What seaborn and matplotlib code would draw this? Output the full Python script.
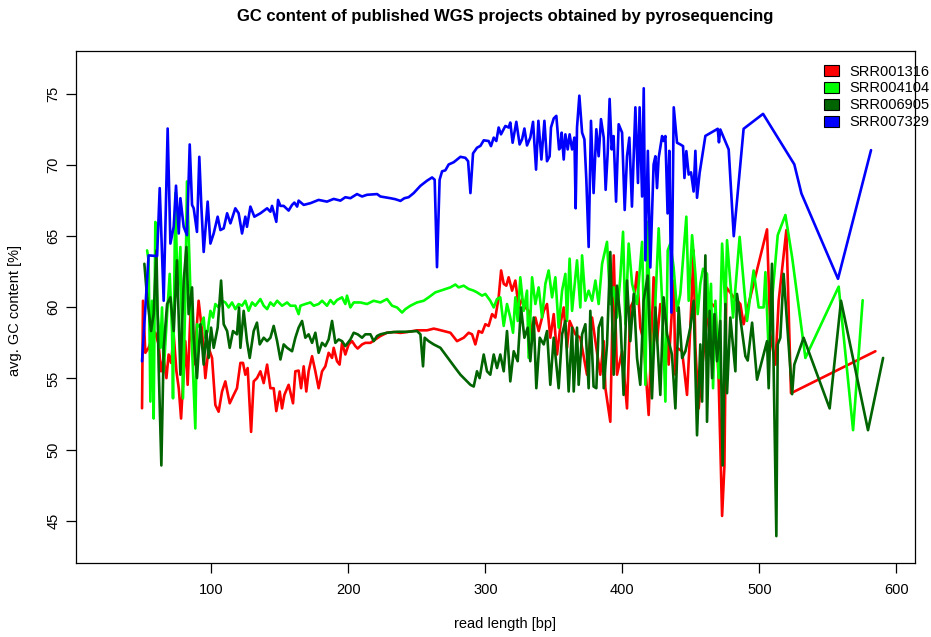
import numpy as np
import pandas as pd
import matplotlib
matplotlib.use("Agg")
import matplotlib.pyplot as plt
import seaborn as sns
from matplotlib.patches import Patch

sns.set_theme(style="white")
plt.rcParams['font.family'] = ['Liberation Sans', 'DejaVu Sans']
plt.rcParams['text.color'] = 'black'
plt.rcParams['axes.labelcolor'] = 'black'
plt.rcParams['xtick.color'] = 'black'
plt.rcParams['ytick.color'] = 'black'

runs = ["SRR001316", "SRR004104", "SRR006905", "SRR007329"]
colors = ["#FF0000", "#00FF00", "#006400", "#0000FF"]

red_x = [49.4, 50.1, 51.8, 54.2, 56.7, 59.1, 61.5, 63.3, 65.2, 67.2, 68.8, 70.6, 72.5, 74.5, 76.2, 77.9,
         79.8, 81.0, 82.7, 84.7, 87.1, 89.1, 90.7, 93.2, 95.6, 98.0, 100.5, 102.9, 105.3, 107.8, 110.2,
         113.4, 116.3, 118.7, 121.2, 123.1, 124.8, 126.5, 129.0, 130.9, 133.3, 135.8, 138.2, 140.7, 143.1,
         145.5, 147.4, 149.9, 151.6, 153.3, 156.4, 159.6, 161.3, 163.7, 165.5, 167.4, 169.3, 171.0, 173.5,
         175.9, 178.3, 180.8, 183.2, 185.6, 188.1, 189.3, 191.7, 193.6, 195.4, 197.8, 200.2, 202.7, 205.1,
         206.8, 210.0, 212.4, 216.1, 219.7, 223.4, 228.2, 233.1, 238.0, 242.8, 250.1, 257.4, 262.3, 264.7,
         269.6, 274.5, 279.3, 284.2, 287.8, 290.3, 292.7, 295.1, 297.6, 300.0, 302.4, 304.9, 307.3, 309.7,
         311.5, 313.4, 315.3, 317.0, 319.5, 321.9, 324.3, 326.8, 329.2, 331.6, 334.1, 336.5, 338.9, 342.6,
         345.0, 347.4, 349.9, 352.3, 355.2, 357.2, 359.6, 361.5, 365.7, 369.3, 374.2, 377.9, 380.3, 383.9,
         386.4, 387.6, 391.2, 393.7, 396.1, 399.8, 403.4, 405.8, 408.3, 410.7, 413.1, 415.5, 419.2, 422.8,
         425.3, 427.7, 431.4, 433.8, 437.5, 438.7, 439.9, 443.6, 447.2, 449.6, 452.0, 453.3, 455.7, 458.2,
         460.6, 463.0, 465.5, 467.9, 470.3, 472.8, 474.5, 475.9, 481.3, 486.1, 488.5, 505.6, 508.0, 511.7,
         514.1, 519.7, 523.1, 584.7]
red_y = [52.9, 60.46, 56.8, 57.15, 57.86, 58.21, 57.39, 55.5, 56.44, 55.02, 56.68, 56.09, 58.1, 55.5, 54.31, 52.18,
         55.5, 57.62, 54.55, 59.52, 55.97, 58.33, 60.46, 58.33, 55.02, 57.15, 56.44, 53.13, 52.66, 54.08, 54.79,
         53.25, 53.84, 54.31, 56.09, 56.09, 55.26, 55.73, 51.24, 54.79, 55.02, 55.5, 54.67, 55.97, 54.31,
         54.31, 52.7, 54.08, 52.89, 53.84, 54.55, 53.25, 55.5, 55.55, 54.31, 55.85, 54.08, 55.5, 56.56,
         55.5, 54.31, 55.5, 55.85, 56.8, 56.44, 57.15, 56.21, 55.97, 57.5, 56.68, 57.39, 57.62, 57.27,
         57.1, 57.39, 57.5, 57.5, 57.74, 57.98, 58.21, 58.26, 58.2, 58.26, 58.38, 58.38, 58.5, 58.45,
         58.33, 58.21, 57.62, 57.86, 58.21, 58.1, 57.39, 58.33, 58.21, 58.81, 58.69, 59.52, 59.28, 60.7,
         62.59, 61.65, 61.52, 62.11, 61.17, 61.88, 59.99, 60.58, 59.99, 59.75, 58.1, 59.28, 58.33, 59.75,
         60.23, 57.86, 59.52, 56.68, 59.04, 59.99, 57.15, 59.04, 58.1, 57.86, 55.26, 59.28, 57.62, 55.26,
         57.62, 54.31, 51.95, 63.65, 55.26, 56.91, 52.89, 59.99, 60.46, 62.47, 58.57, 57.62, 52.43, 62.11,
         57.62, 60.23, 59.75, 55.97, 61.88, 55.26, 57.15, 56.91, 53.84, 58.57, 64.0, 57.15, 52.89, 55.73,
         58.1, 59.99, 60.23, 59.99, 54.79, 45.33, 48.88, 61.4, 60.7, 60.23, 58.81, 65.48, 58.1, 55.97,
         60.46, 65.43, 53.96, 56.91]

green_x = [53.1, 54.2, 55.5, 56.7, 57.9, 59.1, 60.4, 62.8, 64.0, 65.2, 67.7, 69.6, 71.3, 72.0, 73.7, 75.4,
           77.4, 79.3, 81.0, 82.2, 84.7, 85.9, 88.3, 89.5, 92.0, 94.4, 95.6, 97.3, 99.3, 101.2, 102.9, 105.3,
           107.8, 110.2, 112.6, 115.1, 117.5, 119.9, 122.4, 124.8, 127.2, 129.7, 132.1, 135.8, 138.2, 140.7,
           143.1, 145.5, 148.0, 151.6, 155.3, 157.7, 161.3, 163.7, 165.0, 168.6, 172.3, 174.7, 178.3, 180.8,
           184.4, 186.9, 189.3, 191.7, 195.4, 197.8, 199.0, 201.5, 203.9, 208.8, 213.6, 218.5, 223.4, 228.2,
           231.9, 235.5, 239.2, 241.6, 245.3, 250.1, 255.0, 258.6, 263.5, 267.2, 270.8, 274.5, 278.1, 280.5,
           284.2, 287.8, 291.5, 293.9, 297.6, 300.0, 303.6, 306.1, 308.5, 310.9, 313.4, 315.8, 318.2, 320.2,
           321.9, 323.6, 325.5, 328.0, 330.4, 331.6, 334.1, 336.5, 338.9, 341.4, 343.8, 346.2, 348.7, 351.1,
           353.5, 356.0, 358.4, 359.6, 361.5, 363.3, 366.9, 369.3, 370.6, 373.0, 375.4, 377.9, 380.3, 382.7,
           385.2, 388.8, 391.2, 393.7, 396.1, 398.5, 400.5, 402.2, 404.6, 407.1, 410.7, 414.4, 416.8, 418.5,
           420.9, 422.8, 426.5, 429.0, 431.4, 433.1, 435.0, 437.4, 439.9, 442.3, 446.7, 448.4, 450.9, 453.3,
           455.0, 456.9, 458.9, 461.8, 463.0, 464.7, 466.2, 467.9, 470.3, 472.8, 475.2, 476.4, 480.8, 485.6,
           491.0, 495.8, 499.5, 503.1, 504.4, 506.8, 509.2, 513.4, 519.0, 523.9, 533.6, 557.9, 568.4, 575.4]
green_y = [64.0, 63.3, 53.37, 60.46, 52.18, 66.0, 59.99, 57.15, 59.99, 55.5, 59.52, 62.35, 58.33, 53.6, 68.03, 60.7,
           64.24, 53.6, 60.7, 68.85, 61.17, 57.15, 51.48, 58.81, 58.57, 59.28, 57.86, 58.33, 59.75, 59.28, 60.23, 59.99,
           60.46, 60.34, 59.99, 60.34, 59.87, 60.23, 60.11, 60.46, 59.75, 60.34, 60.11, 60.58, 60.11, 59.87,
           60.34, 60.11, 60.46, 60.11, 60.34, 60.11, 60.11, 59.52, 60.11, 60.23, 60.34, 60.11, 60.23, 60.46,
           60.11, 60.51, 60.23, 60.51, 60.7, 60.23, 60.82, 59.99, 60.34, 60.34, 60.23, 60.46, 60.34, 60.58,
           60.11, 59.99, 59.63, 59.87, 60.11, 60.34, 60.46, 60.7, 61.05, 61.17, 61.29, 61.4, 61.6, 61.4,
           61.52, 61.29, 61.17, 61.05, 60.82, 60.94, 60.46, 59.99, 60.58, 60.7, 58.69, 60.23, 59.28, 58.21,
           60.7, 59.04, 62.11, 59.75, 61.17, 56.44, 62.11, 60.23, 61.4, 59.28, 61.65, 62.59, 60.7, 62.11,
           58.57, 61.17, 62.35, 59.04, 63.42, 59.75, 63.3, 59.99, 63.65, 60.46, 61.17, 60.46, 61.88, 60.23,
           63.06, 64.6, 60.23, 61.4, 59.28, 62.11, 65.31, 58.81, 64.48, 61.65, 60.23, 64.6, 54.55, 66.01,
           55.26, 57.62, 65.55, 60.46, 53.37, 64.0, 64.48, 62.82, 59.75, 60.94, 66.37, 60.46, 65.07, 62.35,
           59.52, 61.65, 62.71, 62.35, 59.28, 61.65, 54.31, 60.46, 55.02, 64.48, 59.99, 64.72, 59.28, 64.95,
           59.04, 62.59, 59.99, 59.99, 62.47, 56.91, 60.46, 65.07, 66.49, 63.53, 56.44, 61.45, 51.36, 60.5]

dgreen_x = [51.1, 53.1, 56.0, 57.9, 59.9, 61.5, 63.5, 65.2, 67.7, 70.1, 72.5, 74.9, 77.4, 79.8, 81.8, 83.4,
            85.9, 87.1, 89.5, 92.0, 94.4, 96.4, 98.0, 99.8, 101.7, 104.6, 107.1, 109.0, 111.5, 113.4, 115.8,
            118.7, 120.2, 121.2, 123.6, 126.0, 128.0, 130.9, 133.3, 135.3, 138.2, 140.7, 143.1, 145.5, 148.0,
            150.4, 152.8, 155.3, 158.9, 161.3, 163.7, 166.2, 168.6, 171.0, 173.5, 175.9, 178.3, 180.8, 183.2,
            185.6, 188.1, 190.5, 192.9, 195.4, 197.8, 201.5, 203.9, 206.8, 210.0, 212.4, 216.1, 218.5, 220.9,
            223.4, 228.2, 235.5, 242.8, 250.1, 252.6, 254.5, 255.7, 258.6, 262.3, 267.2, 270.8, 274.5, 278.1,
            281.8, 285.4, 289.1, 291.5, 293.9, 295.8, 298.8, 301.2, 303.6, 306.1, 308.5, 310.9, 313.4, 315.8,
            318.2, 320.7, 323.6, 326.0, 328.5, 330.9, 332.8, 335.3, 337.2, 339.7, 342.6, 345.0, 347.4, 349.9,
            353.5, 356.0, 358.4, 360.8, 363.3, 364.5, 366.9, 368.1, 370.6, 373.0, 375.4, 376.6, 379.0, 381.0,
            382.7, 385.2, 386.4, 388.8, 391.2, 393.7, 396.1, 398.5, 400.9, 403.4, 405.8, 408.3, 410.7, 413.1,
            415.5, 418.5, 421.6, 424.1, 427.7, 430.1, 432.6, 436.2, 438.7, 441.1, 443.6, 446.0, 449.6, 452.0,
            454.5, 456.9, 458.2, 460.6, 461.8, 463.7, 465.5, 467.2, 469.1, 471.5, 473.2, 475.2, 476.4, 478.8,
            482.5, 483.7, 489.8, 491.5, 494.7, 498.3, 505.6, 506.8, 509.2, 512.4, 513.4, 515.3, 517.7, 523.9,
            525.5, 532.3, 551.3, 559.6, 579.3, 590.3]
dgreen_y = [63.06, 60.7, 58.33, 59.52, 64.0, 55.97, 48.88, 57.15, 60.23, 60.7, 58.33, 63.3, 55.26, 61.88, 64.24, 59.52,
            61.4, 57.86, 55.02, 58.81, 55.97, 58.33, 56.44, 58.57, 57.15, 58.57, 61.88, 58.81, 58.33, 57.15, 58.33,
            58.1, 59.99, 57.15, 59.75, 57.62, 56.44, 58.33, 58.92, 57.39, 57.86, 57.62, 57.86, 58.69, 57.62,
            56.33, 57.39, 57.15, 56.91, 57.86, 58.57, 59.04, 57.86, 58.1, 57.5, 58.21, 56.8, 57.5, 57.27,
            57.74, 59.04, 57.5, 57.74, 57.62, 57.27, 57.74, 58.21, 58.1, 57.86, 58.1, 58.1, 57.62, 57.98,
            58.1, 58.21, 58.28, 58.28, 58.33, 58.1, 55.85, 57.86, 57.62, 57.39, 57.15, 56.68, 56.21, 55.73,
            55.26, 54.91, 54.55, 54.43, 55.5, 55.02, 56.68, 55.5, 55.26, 56.68, 55.73, 56.68, 55.5, 58.33,
            54.79, 56.91, 56.21, 59.99, 57.86, 58.57, 56.21, 59.28, 54.31, 57.86, 57.39, 58.33, 54.55, 57.86,
            54.31, 58.1, 59.04, 54.08, 58.57, 54.08, 58.57, 54.55, 58.1, 58.81, 54.31, 59.75, 54.43, 54.31,
            58.57, 59.28, 54.31, 57.39, 63.89, 55.26, 61.52, 59.28, 53.84, 61.88, 57.62, 60.94, 56.44, 54.55,
            60.46, 62.23, 53.6, 59.99, 53.84, 60.7, 58.1, 56.68, 52.89, 59.99, 56.44, 56.91, 58.57, 60.46,
            51.0, 57.39, 53.37, 63.65, 51.95, 59.75, 55.02, 59.52, 56.21, 59.04, 48.88, 60.23, 53.96, 59.28,
            55.5, 60.94, 56.56, 56.26, 58.92, 54.91, 57.62, 54.31, 63.06, 43.91, 57.39, 57.86, 62.35, 53.89,
            55.97, 57.86, 52.89, 60.46, 51.36, 56.44]

blue_x = [49.4, 54.2, 60.4, 62.3, 65.2, 68.1, 70.1, 72.5, 74.2, 76.2, 77.4, 79.8, 82.2, 84.2, 85.9, 87.1,
          89.5, 91.2, 92.7, 94.4, 97.3, 99.3, 101.7, 104.6, 106.6, 109.0, 111.5, 113.9, 117.5, 119.9, 122.4,
          124.8, 126.0, 128.5, 131.4, 135.8, 140.7, 143.1, 144.3, 147.4, 148.7, 150.4, 152.8, 156.4, 158.9,
          160.6, 162.6, 163.7, 167.4, 172.3, 178.3, 184.4, 189.3, 194.2, 197.8, 201.5, 206.3, 210.0, 213.6,
          221.0, 223.4, 230.7, 234.3, 238.0, 240.9, 244.0, 247.7, 252.6, 257.4, 261.1, 263.0, 264.7, 266.6,
          268.4, 270.8, 273.2, 276.9, 281.8, 285.4, 287.4, 289.1, 291.0, 293.9, 296.4, 298.8, 302.4, 304.1,
          306.1, 308.0, 309.7, 311.4, 314.6, 317.0, 318.2, 319.9, 322.6, 325.0, 326.8, 328.5, 330.4, 332.8,
          334.8, 337.0, 338.7, 340.9, 343.1, 345.0, 346.9, 347.9, 349.9, 351.8, 353.8, 354.7, 355.7, 357.2,
          358.4, 360.1, 361.5, 363.3, 365.0, 365.9, 366.9, 368.6, 370.6, 372.3, 373.7, 375.4, 377.1, 379.0,
          381.0, 382.7, 384.4, 386.4, 387.8, 389.3, 390.7, 392.2, 393.6, 395.4, 397.3, 399.8, 401.7, 403.4,
          405.1, 407.0, 409.5, 411.4, 412.6, 414.4, 415.6, 416.8, 418.6, 420.4, 422.8, 424.1, 425.3, 426.5,
          429.0, 430.1, 431.4, 433.0, 434.3, 435.8, 437.5, 439.9, 442.3, 444.3, 445.3, 446.7, 448.4, 450.1,
          452.0, 453.3, 454.5, 456.4, 460.6, 469.6, 470.5, 471.5, 477.6, 481.3, 488.5, 502.7, 525.5, 530.7,
          557.4, 581.5]
blue_y = [56.2, 63.65, 63.6, 68.38, 60.46, 72.57, 64.48, 65.66, 68.55, 65.19, 67.67, 65.66, 65.07, 71.45, 67.2, 66.96,
          65.3, 70.58, 67.08, 63.89, 67.43, 64.48, 65.19, 66.37, 65.43, 65.55, 66.61, 65.9, 66.96, 66.61, 65.19,
          66.37, 65.66, 67.08, 66.37, 66.61, 66.96, 66.72, 67.13, 66.01, 67.55, 67.13, 67.13, 66.8, 67.2,
          67.36, 67.08, 67.5, 67.2, 67.32, 67.55, 67.43, 67.62, 67.5, 67.74, 67.67, 67.96, 67.79, 67.91,
          67.96, 67.79, 67.67, 67.6, 67.48, 67.67, 67.74, 68.03, 68.54, 68.9, 69.13, 68.97, 62.82, 68.97,
          69.56, 69.63, 70.04, 70.2, 70.58, 70.51, 70.27, 68.03, 70.82, 71.22, 71.35, 71.74, 71.69, 71.33,
          71.93, 71.69, 72.64, 72.16, 72.75, 72.64, 72.99, 71.57, 73.04, 71.45, 71.81, 72.57, 71.38, 71.93,
          73.04, 69.68, 73.11, 70.39, 73.11, 70.27, 70.62, 72.64, 73.28, 73.46, 71.1, 71.22, 72.28, 70.39,
          72.16, 71.1, 72.16, 71.1, 71.93, 66.96, 72.64, 74.88, 72.28, 71.81, 68.97, 64.24, 73.11, 68.03,
          72.52, 70.62, 73.23, 71.93, 68.26, 70.86, 74.65, 71.1, 72.04, 67.43, 72.87, 72.28, 66.84, 70.62,
          71.93, 67.08, 74.06, 68.74, 74.06, 67.79, 75.4, 63.3, 71.0, 62.8, 70.04, 70.62, 68.38, 70.51,
          72.04, 71.69, 72.04, 66.6, 71.0, 59.63, 74.06, 71.57, 71.45, 71.33, 69.09, 70.98, 69.33, 69.49,
          68.14, 71.0, 67.7, 69.45, 72.05, 72.55, 71.6, 72.5, 71.1, 65.0, 72.55, 73.6, 70.05, 68.0,
          62.0, 71.05]

series_x = [red_x, green_x, dgreen_x, blue_x]
series_y = [red_y, green_y, dgreen_y, blue_y]

frames = []
for run, xs, ys in zip(runs, series_x, series_y):
    frames.append(pd.DataFrame({"length": xs, "gc": ys, "run": run}))
df = pd.concat(frames, ignore_index=True)

W, H = 931, 637
fig = plt.figure(figsize=(W / 100, H / 100), dpi=100)
ax = fig.add_axes([76 / W, 1 - 563.3 / H, (915 - 76) / W, (563.3 - 51) / H])

palette = dict(zip(runs, colors))
for run in runs:
    sub = df[df["run"] == run]
    sns.lineplot(data=sub, x="length", y="gc", color=palette[run], sort=False,
                 estimator=None, linewidth=1.9, ax=ax, legend=False)

ax.set_xlim(1.2, 613.6)
ax.set_ylim(42.0, 78.02)
ax.set_xticks([100, 200, 300, 400, 500, 600])
ax.set_yticks([45, 50, 55, 60, 65, 70, 75])
ax.set_xticklabels(["100", "200", "300", "400", "500", "600"], fontsize=10.5)
ax.set_yticklabels(["45", "50", "55", "60", "65", "70", "75"], fontsize=10.5,
                   rotation=90, va="center")
ax.tick_params(axis="both", direction="out", length=7.5, width=0.9, color="black",
               left=True, bottom=True, labelcolor="black")
ax.tick_params(axis="x", pad=6.5)
ax.tick_params(axis="y", pad=3.5)
for s in ax.spines.values():
    s.set_visible(True)
    s.set_color("black")
    s.set_linewidth(0.9)
ax.set_xlabel("read length [bp]", fontsize=10.5, color="black")
ax.set_ylabel("avg. GC content [%]", fontsize=10.5, color="black")
ax.xaxis.set_label_coords((505 - 76) / (915 - 76), -(624 - 563.3) / (563.3 - 51))
ax.yaxis.set_label_coords(-(76 - 15) / (915 - 76), (563.3 - 310) / (563.3 - 51))
ax.xaxis.label.set_va("center")
ax.yaxis.label.set_va("center")
ax.grid(False)
ax.set_facecolor("white")

fig.text(505.5 / W, 1 - 17 / H, "GC content of published WGS projects obtained by pyrosequencing",
         ha="center", va="center", fontsize=12, fontweight="bold", color="black")

handles = [Patch(facecolor=c, edgecolor="black", linewidth=0.8, label=r) for r, c in zip(runs, colors)]
fig.legend(handles=handles, loc="upper left", bbox_to_anchor=(824 / W, 1 - 64.5 / H),
           frameon=False, fontsize=10.5, handlelength=1.0, handleheight=0.75,
           handletextpad=0.75, labelspacing=0.2, borderpad=0, borderaxespad=0,
           labelcolor="black")

fig.savefig("out.png", dpi=100)
